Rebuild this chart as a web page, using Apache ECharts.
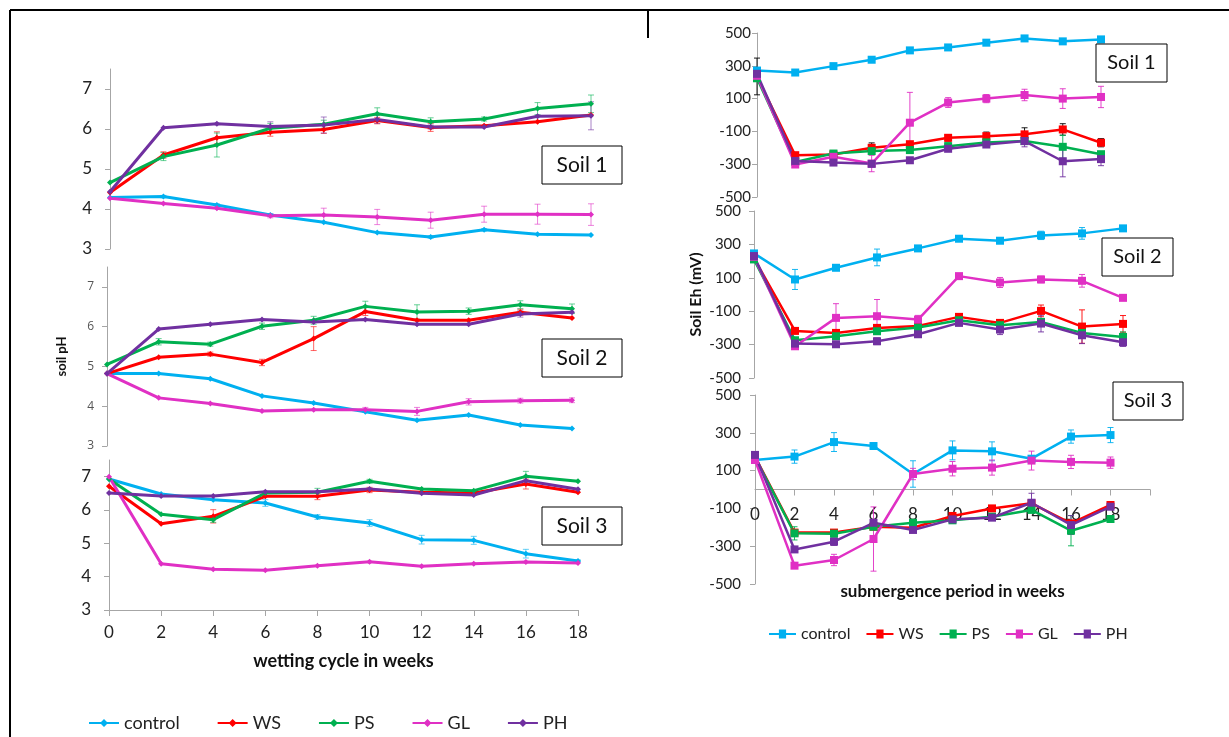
<!DOCTYPE html>
<html><head><meta charset="utf-8">
<script src="https://cdn.jsdelivr.net/npm/echarts@6/dist/echarts.min.js"></script>
<style>html,body{margin:0;padding:0;background:#fff}#c{width:1229px;height:737px}</style>
</head><body><div id="c"></div>
<script>
const weeks = [0,2,4,6,8,10,12,14,16,18];
const seriesNames = ['control','WS','PS','GL','PH'];
const pHTicks = [3,4,5,6,7];
const ehTicks = [-500,-300,-100,100,300,500];
const soilLabels = ['Soil 1','Soil 2','Soil 3'];

// soil pH (order: control, WS, PS, GL, PH)
const pHSoil1 = [
 [4.29,4.31,4.10,3.85,3.67,3.41,3.30,3.48,3.37,3.35],
 [4.41,5.35,5.78,5.92,5.99,6.21,6.04,6.08,6.18,6.35],
 [4.66,5.31,5.60,6.02,6.12,6.38,6.18,6.25,6.51,6.63],
 [4.27,4.14,4.02,3.83,3.85,3.80,3.72,3.87,3.87,3.86],
 [4.43,6.03,6.13,6.06,6.10,6.24,6.05,6.05,6.32,6.33]
];
const pHSoil1Err = [
 [0,0.03,0.03,0.03,0,0,0.03,0.03,0,0],
 [0,0.08,0.15,0.1,0.1,0.08,0.1,0,0,0],
 [0,0.1,0.3,0.12,0.1,0.15,0.1,0.05,0.15,0.22],
 [0,0,0,0.05,0.17,0.19,0.2,0.2,0.25,0.27],
 [0,0,0,0.12,0.2,0.1,0.05,0,0,0.35]
];
const pHSoil2 = [
 [4.82,4.82,4.69,4.26,4.08,3.86,3.65,3.78,3.53,3.44],
 [4.82,5.23,5.31,5.10,5.70,6.38,6.16,6.16,6.36,6.22],
 [5.05,5.62,5.56,6.01,6.16,6.51,6.37,6.39,6.55,6.45],
 [4.82,4.21,4.07,3.88,3.91,3.91,3.87,4.11,4.14,4.15],
 [4.82,5.94,6.06,6.18,6.12,6.18,6.06,6.06,6.32,6.36]
];
const pHSoil2Err = [
 [0,0,0,0,0,0,0,0,0,0],
 [0,0,0.05,0.08,0.3,0.1,0,0,0.08,0],
 [0,0.08,0.05,0.08,0.1,0.13,0.18,0.08,0.1,0.12],
 [0,0,0,0,0,0.06,0.1,0.08,0.06,0.06],
 [0,0,0,0,0,0,0,0,0.08,0]
];
const pHSoil3 = [
 [6.93,6.48,6.31,6.21,5.79,5.61,5.11,5.09,4.69,4.47],
 [6.71,5.59,5.81,6.41,6.41,6.60,6.53,6.51,6.78,6.53],
 [6.93,5.87,5.71,6.51,6.53,6.86,6.63,6.58,7.01,6.86],
 [7.00,4.39,4.22,4.19,4.33,4.45,4.31,4.39,4.44,4.41],
 [6.51,6.42,6.42,6.55,6.55,6.63,6.50,6.45,6.88,6.62]
];
const pHSoil3Err = [
 [0,0,0,0.1,0.07,0.1,0.13,0.12,0.13,0.03],
 [0,0,0.2,0,0.1,0.08,0,0,0.15,0],
 [0,0,0.08,0,0.12,0.06,0,0,0.15,0],
 [0,0,0,0,0,0,0,0,0,0],
 [0,0,0,0,0,0,0,0,0,0]
];
// soil Eh (mV)
const ehSoil1 = [
 [271,259,298,337,394,412,441,467,449,461],
 [235,-245,-241,-200,-178,-139,-129,-118,-88,-169],
 [224,-286,-235,-220,-214,-190,-167,-159,-194,-239],
 [239,-302,-255,-296,-47,76,100,122,100,110],
 [251,-280,-290,-298,-276,-206,-180,-159,-282,-269]
];
const ehSoil1Err = [
 [0,0,0,0,0,0,0,0,0,0],
 [112,0,0,30,0,20,25,40,35,25],
 [0,0,0,0,0,20,0,0,70,0],
 [0,0,0,50,185,30,25,35,60,65],
 [0,0,0,0,0,15,0,35,95,40]
];
const ehSoil2 = [
 [246,90,160,222,276,334,322,354,366,396],
 [216,-218,-230,-200,-188,-134,-170,-98,-192,-176],
 [210,-274,-250,-220,-198,-154,-184,-164,-230,-254],
 [226,-310,-140,-130,-150,110,72,90,82,-20],
 [230,-294,-298,-280,-238,-170,-210,-174,-244,-286]
];
const ehSoil2Err = [
 [0,60,0,50,0,0,0,25,35,0],
 [0,0,0,0,0,0,0,35,100,50],
 [0,0,0,0,0,0,0,0,0,30],
 [0,0,85,100,25,10,30,20,38,15],
 [0,0,0,20,0,0,30,50,50,25]
];
const ehSoil3 = [
 [156,174,251,230,82,207,202,163,280,288],
 [174,-228,-228,-197,-202,-140,-100,-73,-179,-82],
 [170,-232,-234,-197,-176,-163,-144,-108,-218,-156],
 [156,-403,-373,-262,82,110,116,153,146,142],
 [183,-317,-276,-176,-214,-158,-149,-70,-188,-91]
];
const ehSoil3Err = [
 [0,35,50,15,70,50,50,0,35,40],
 [0,0,0,0,0,0,0,0,0,0],
 [0,35,0,0,0,0,0,0,80,0],
 [0,0,30,170,30,38,40,50,35,30],
 [0,0,20,0,0,15,15,50,50,15]
];

const colors = ['#00B0F0','#FF0000','#00B050','#E030C4','#7030A0'];
const FONT = 'Lato, "Open Sans", sans-serif';

const panels = [
 {vals:pHSoil1, errs:pHSoil1Err, kind:'ph', grid:{left:110,top:69,width:481,height:180}, xmax:18, showX:false,
  lab:{fontSize:17,color:'#222',margin:18,fontFamily:FONT}, box:[542,146,80,38,21]},
 {vals:pHSoil2, errs:pHSoil2Err, kind:'ph', grid:{left:107,top:267,width:465,height:179}, xmax:18, showX:false,
  lab:{fontSize:12,color:'#555',margin:13,fontFamily:'"Open Sans", sans-serif'}, yName:'soil pH', yNameGap:39, yNameSize:13, box:[542,339,80,38,21]},
 {vals:pHSoil3, errs:pHSoil3Err, kind:'ph', grid:{left:109,top:460,width:469,height:150}, xmax:18, showX:true,
  xName:'wetting cycle in weeks', xNameGap:42, xNameSize:18, xLabMargin:14,
  lab:{fontSize:17,color:'#222',margin:18,fontFamily:FONT}, box:[542,507,80,38,21]},
 {vals:ehSoil1, errs:ehSoil1Err, kind:'eh', grid:{left:757,top:33,width:344,height:164}, xmax:18, showX:false,
  lab:{fontSize:15,color:'#222',margin:6,fontFamily:FONT}, box:[1096,44,71,38,20], errColor:{1:'#000'}},
 {vals:ehSoil2, errs:ehSoil2Err, kind:'eh', grid:{left:754,top:211,width:369,height:167}, xmax:18, showX:false,
  lab:{fontSize:15,color:'#222',margin:13,fontFamily:FONT}, yName:'Soil Eh (mV)', yNameGap:50, yNameSize:16, box:[1102,238,71,38,20]},
 {vals:ehSoil3, errs:ehSoil3Err, kind:'eh', grid:{left:755,top:395,width:395,height:189}, xmax:20, showX:true,
  xName:'submergence period in weeks', xNameGap:-1, xNameSize:17, xLabMargin:-78,
  lab:{fontSize:15,color:'#222',margin:14,fontFamily:FONT}, box:[1113,382,70,38,20]}
];

const grids=[], xAxes=[], yAxes=[], series=[], graphics=[];
const axisGrey = '#A6A6A6';
panels.forEach((p,i)=>{
  grids.push(Object.assign({outerBoundsMode:'none',containLabel:false}, p.grid));
  xAxes.push({
    type:'value', gridIndex:i, min:0, max:p.xmax, interval:2, show:p.showX,
    axisLine:{show:true,onZero:true,lineStyle:{color:axisGrey,width:1}},
    axisTick:{show:true,length:6,lineStyle:{color:axisGrey}},
    axisLabel:{fontSize:17,color:'#222',fontFamily:FONT,margin:p.xLabMargin||14,
      formatter:v=> (v>18?'':String(v))},
    splitLine:{show:false},
    name:p.xName||'', nameLocation:'middle', nameGap:(p.xNameGap!==undefined?p.xNameGap:30),
    nameTextStyle:{fontSize:p.xNameSize||16,fontWeight:'bold',color:'#111',fontFamily:FONT}
  });
  const isPh = p.kind==='ph';
  yAxes.push({
    type:'value', gridIndex:i, min:isPh?3:-500, max:isPh?7.5:500, interval:isPh?0.5:100,
    axisLine:{show:true,lineStyle:{color:axisGrey,width:1}},
    axisTick:{show:true,length:5,customValues:isPh?pHTicks:ehTicks,lineStyle:{color:axisGrey}},
    axisLabel:Object.assign({customValues:isPh?pHTicks:ehTicks}, p.lab),
    splitLine:{show:false},
    name:p.yName||'', nameLocation:'middle', nameRotate:90, nameGap:p.yNameGap||40,
    nameTextStyle:{fontSize:p.yNameSize||12,fontWeight:'bold',color:'#111',fontFamily:FONT}
  });
  // error bars
  const errData=[];
  p.vals.forEach((arr,s)=>arr.forEach((v,k)=>{
    const e=p.errs[s][k]; if(e>0) errData.push([weeks[k],v,e,s]);
  }));
  const errColor = p.errColor||{};
  series.push({
    type:'custom', xAxisIndex:i, yAxisIndex:i, z:2, silent:true, data:errData,
    encode:{x:0,y:1},
    renderItem:(params,api)=>{
      const x=api.value(0), y=api.value(1), e=api.value(2), s=api.value(3);
      const t=api.coord([x,y+e]), b=api.coord([x,y-e]);
      const c=errColor[s]||colors[s];
      const st={stroke:c,lineWidth:1,opacity:isPh?0.6:0.9};
      const cap=3;
      return {type:'group',children:[
        {type:'line',shape:{x1:t[0],y1:t[1],x2:b[0],y2:b[1]},style:st},
        {type:'line',shape:{x1:t[0]-cap,y1:t[1],x2:t[0]+cap,y2:t[1]},style:st},
        {type:'line',shape:{x1:b[0]-cap,y1:b[1],x2:b[0]+cap,y2:b[1]},style:st}
      ]};
    }
  });
  p.vals.forEach((arr,s)=>{
    series.push({
      type:'line', name:seriesNames[s], xAxisIndex:i, yAxisIndex:i, z:3,
      data:weeks.map((w,k)=>[w,arr[k]]),
      symbol:isPh?'diamond':'rect', symbolSize:isPh?6:8, showSymbol:true,
      itemStyle:{color:colors[s]}, lineStyle:{color:colors[s],width:isPh?3:2.5},
      emphasis:{disabled:true}, animation:false
    });
  });
  const [bx,by,bw,bh,fs]=p.box;
  graphics.push({type:'rect',shape:{x:bx,y:by,width:bw,height:bh},style:{fill:'#fff',stroke:'#000',lineWidth:1},z:10});
  graphics.push({type:'text',x:bx+bw/2,y:by+bh/2,z:11,style:{text:soilLabels[i%3],fontSize:fs,fontFamily:FONT,fill:'#111',align:'center',verticalAlign:'middle'}});
});
// frame lines
graphics.push({type:'line',shape:{x1:10,y1:10,x2:10,y2:737},style:{stroke:'#000',lineWidth:2}});
graphics.push({type:'line',shape:{x1:10,y1:10,x2:1229,y2:10},style:{stroke:'#000',lineWidth:2}});
graphics.push({type:'line',shape:{x1:648,y1:10,x2:648,y2:38},style:{stroke:'#000',lineWidth:2}});

const iconDiamond='path://M0,4h12l3,-3l3,3h12v2h-12l-3,3l-3,-3h-12z';
const iconSquare='path://M0,4h11v-4h8v4h11v2h-11v4h-8v-4h-11z';
const chart = echarts.init(document.getElementById('c'),null,{renderer:'canvas'});
chart.setOption({
  animation:false,
  color:colors,
  grid:grids, xAxis:xAxes, yAxis:yAxes, series:series,
  legend:[
    {data:seriesNames, left:84, top:709, icon:iconDiamond, itemWidth:30, itemHeight:10, itemGap:38,
     textStyle:{fontSize:18,color:'#222',fontFamily:FONT}, selectedMode:false},
    {data:seriesNames, left:764, top:621, icon:iconSquare, itemWidth:27, itemHeight:10, itemGap:16,
     textStyle:{fontSize:16,color:'#222',fontFamily:FONT}, selectedMode:false}
  ],
  graphic:graphics
});
</script></body></html>
